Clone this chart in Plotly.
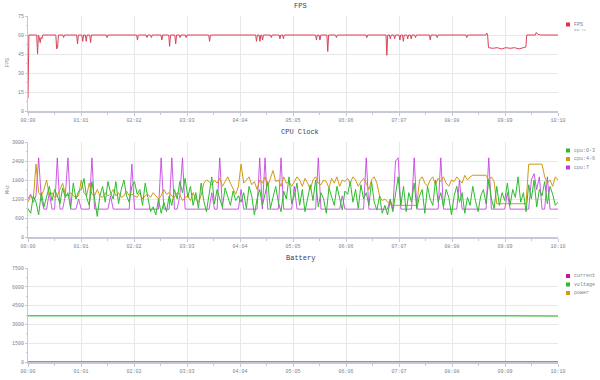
import numpy as np
import plotly.graph_objects as go

# ---------------- data ----------------
tick_vals = [0, 61, 122, 183, 244, 305, 366, 427, 488, 549, 610]
tick_text = ["00:00", "01:01", "02:02", "03:03", "04:04", "05:05",
             "06:06", "07:07", "08:08", "09:09", "10:10"]

fps_t = [0, 1, 10, 11, 12, 13, 14, 15, 16, 17, 32, 33, 34, 35, 40, 41, 42,
         56, 57, 58, 62, 63, 64, 66, 67, 68, 71, 72, 73, 90, 91, 92,
         125, 126, 127, 136, 137, 138, 141, 142, 143, 153, 154, 155,
         162, 163, 164, 169, 170, 171, 174, 175, 176, 181, 182, 183,
         208, 209, 210, 262, 263, 264, 266, 267, 268, 269, 270, 271,
         279, 280, 281, 289, 290, 291, 293, 294, 295, 331, 332, 333,
         335, 336, 337, 344, 345, 346, 354, 355, 356, 389, 390, 391,
         412, 413, 414, 416, 417, 418, 421, 422, 423, 427, 428, 429,
         431, 432, 433, 436, 437, 438, 440, 441, 442, 445, 446, 447,
         462, 463, 464, 470, 471, 472, 504, 505, 506, 527, 528, 529,
         530, 535, 540, 545, 550, 555, 560, 565, 570, 573, 574, 584,
         585, 587, 590, 610]
fps_v = [10, 60, 60, 45, 60, 58, 54, 58, 57, 60, 60, 49, 50, 60, 60, 58, 60,
         60, 53, 60, 60, 55, 60, 60, 55, 60, 60, 54, 60, 60, 58, 60,
         60, 56, 60, 60, 58, 60, 60, 58, 60, 60, 56, 60,
         60, 51, 60, 60, 53, 60, 60, 58, 60, 60, 58, 60,
         60, 55, 60, 60, 55, 60, 60, 55, 60, 60, 56, 60,
         60, 58, 60, 60, 57, 60, 60, 57, 60, 60, 56, 60,
         60, 56, 60, 60, 47, 60, 60, 58, 60, 60, 58, 60,
         60, 44, 60, 60, 57, 60, 60, 57, 60, 60, 56, 60,
         60, 55, 60, 60, 57, 60, 60, 57, 60, 60, 58, 60,
         60, 56, 60, 60, 58, 60, 60, 58, 60, 60, 61.5, 60,
         50, 49.5, 50, 49, 50, 49.5, 50, 49, 50, 50.5, 60, 60,
         62, 60.5, 60, 60]

cpu_0_3 = [900, 750, 1300, 1100, 700, 1400, 950, 1250, 1600, 1150, 1500, 1300, 1050, 1550, 1250, 1400, 900, 1700, 1200, 1450,
           1500, 1850, 1250, 1000, 1750, 1200, 650, 1300, 1600, 1100, 1750, 1400, 1200, 1750, 1050, 1500, 1800, 1300, 1100, 1600,
           1750, 1350, 1500, 1000, 1700, 1250, 800, 950, 700, 1200, 750, 1100, 800, 1300, 1000, 1500, 1200, 1750, 1400, 1850,
           1250, 1600, 1000, 1400, 900, 1700, 1150, 800, 1350, 1900, 1050, 1500, 1200, 950, 1550, 1300, 1000, 1450, 1150, 1300,
           1100, 1400, 900, 1600, 1300, 700, 1200, 1500, 1000, 1350, 1750, 900, 1250, 1600, 1100, 800, 1450, 1200, 1900, 1050,
           1300, 1700, 1000, 1500, 800, 1250, 1650, 1150, 1800, 950, 1400, 1200, 750, 1550, 1300, 1000, 1600, 1250, 850, 1450,
           1350, 1750, 1100, 1500, 900, 1650, 1200, 1400, 1000, 1750, 1100, 850, 1300, 750, 1000, 700, 1150, 800, 1300, 1900,
           1000, 1600, 800, 1400, 1100, 1700, 900, 1300, 1500, 750, 1600, 1200, 1000, 1800, 1100, 1400, 950, 1500, 1250, 700,
           1300, 1600, 1100, 1400, 750, 1250, 1000, 1600, 1150, 800, 1300, 1500, 1050, 1800, 1200, 900, 1600, 1000, 1400, 1150,
           1700, 1000, 1500, 1250, 1900, 1100, 1400, 800, 1650, 1200, 1800, 950, 1500, 1300, 1750, 1050, 1600, 1350, 1000, 1100]

cpu_4_6 = [1100, 1300, 1200, 2300, 1400, 1300, 1500, 1800, 1300, 1400, 1250, 1300, 1500, 1700, 1350, 1300, 1400, 1300, 1250, 1300,
           1800, 1400, 1300, 1700, 1350, 1300, 1500, 1300, 1250, 1400, 1300, 1350, 1500, 1300, 1400, 1250, 1300, 1450, 1300, 1350,
           1300, 1250, 1400, 1200, 1300, 1350, 1250, 1400, 1300, 1200, 1300, 1500, 1350, 1400, 1300, 1250, 1400, 1350, 1150, 1250,
           1300, 1150, 1400, 1200, 1100, 1300, 1700, 1800, 1750, 1650, 1800, 1700, 1850, 1600, 1750, 1900, 1700, 1500, 1350, 1600,
           2300, 1700, 1800, 1900, 1650, 1750, 1500, 1800, 1700, 1900, 1600, 1850, 2100, 1750, 1800, 1600, 1900, 1700, 1750, 1600,
           1750, 1900, 1800, 1600, 1850, 1700, 1500, 1800, 1900, 1700, 1650, 1800, 1750, 1550, 1850, 1700, 1900, 1600, 1800, 1750,
           1850, 1700, 1900, 1800, 1600, 1750, 1850, 1700, 1500, 1800, 1900, 1700, 1300, 1150, 1200, 1100, 1050, 1000, 1000, 1000,
           1000, 1000, 1000, 1000, 1000, 1000, 1000, 1800, 1900, 1700, 1600, 1800, 1900, 1650, 1850, 1750, 1900, 1700, 1600, 1800,
           1750, 1900, 1800, 1700, 1950, 1800, 1900, 1950, 1950, 1950, 1950, 1950, 1950, 1800, 1900, 1750, 1050, 1050, 1050, 1050,
           1050, 1050, 1050, 1050, 1050, 1050, 1050, 1050, 2300, 2300, 2300, 2300, 2300, 2300, 1900, 1700, 1800, 1600, 1900, 1800]

cpu_7 = [1200, 1350, 1100, 1300, 2500, 1200, 880, 880, 1400, 880, 880, 2500, 880, 880, 1300, 2500, 880, 880, 880, 1200,
         880, 880, 880, 880, 2500, 880, 880, 880, 880, 880, 880, 1300, 880, 880, 880, 880, 880, 880, 880, 2300,
         880, 880, 880, 880, 880, 880, 880, 880, 880, 880, 2500, 880, 880, 880, 2500, 880, 880, 1300, 2500, 880,
         880, 880, 880, 880, 880, 880, 880, 880, 880, 1400, 880, 880, 2500, 880, 880, 880, 880, 880, 880, 880,
         1500, 880, 880, 880, 880, 880, 880, 2500, 880, 2500, 880, 880, 880, 880, 880, 2500, 880, 880, 880, 880,
         1600, 880, 880, 880, 880, 880, 880, 880, 880, 2500, 880, 880, 880, 880, 880, 880, 880, 880, 1300, 880,
         880, 880, 880, 880, 880, 880, 880, 2500, 880, 880, 880, 880, 880, 880, 880, 880, 1200, 880, 2400, 2500,
         880, 880, 880, 880, 880, 2500, 880, 880, 880, 880, 880, 880, 880, 880, 880, 2500, 880, 880, 880, 880,
         880, 880, 1800, 880, 880, 880, 880, 880, 880, 880, 880, 880, 880, 2500, 880, 880, 880, 880, 880, 880,
         1400, 880, 880, 880, 880, 880, 880, 880, 880, 1800, 2000, 1500, 1900, 880, 880, 1900, 880, 880, 880, 880]

bat_t = [0, 144, 145, 610]
bat_current = [0, 0, 0, 0]
bat_voltage = [3700, 3700, 3680, 3680]
bat_power = [0, 0, 0, 0]

fps_avg_label = "59.71"

# ---------------- layout helpers ----------------
W, H = 600, 380
X0, X1 = 28, 558
panels = [(16, 111), (142, 237), (268, 362)]

def py(y):
    return 1 - y / H

def pxx(x):
    return x / W

C_FPS = "#d8435a"
C_G = "#2dbb2d"
C_O = "#d09a12"
C_P = "#c23ddf"
C_CUR = "#c0169a"

fig = go.Figure()

fig.add_trace(go.Scatter(x=fps_t, y=fps_v, mode="lines", line=dict(color=C_FPS, width=1),
                         xaxis="x", yaxis="y", showlegend=False))

def cpu_x(vals):
    return np.linspace(0, 610, len(vals))

fig.add_trace(go.Scatter(x=cpu_x(cpu_7), y=cpu_7, mode="lines", line=dict(color=C_P, width=1),
                         opacity=0.85, xaxis="x2", yaxis="y2", showlegend=False))
fig.add_trace(go.Scatter(x=cpu_x(cpu_4_6), y=cpu_4_6, mode="lines", line=dict(color=C_O, width=1),
                         xaxis="x2", yaxis="y2", showlegend=False))
fig.add_trace(go.Scatter(x=cpu_x(cpu_0_3), y=cpu_0_3, mode="lines", line=dict(color=C_G, width=1),
                         xaxis="x2", yaxis="y2", showlegend=False))

fig.add_trace(go.Scatter(x=bat_t, y=bat_power, mode="lines", line=dict(color=C_O, width=1),
                         xaxis="x3", yaxis="y3", showlegend=False))
fig.add_trace(go.Scatter(x=bat_t, y=bat_current, mode="lines", line=dict(color=C_CUR, width=1),
                         xaxis="x3", yaxis="y3", showlegend=False))
fig.add_trace(go.Scatter(x=bat_t, y=bat_voltage, mode="lines", line=dict(color="#5cc85c", width=1.5),
                         xaxis="x3", yaxis="y3", showlegend=False))

tickfont = dict(family="Liberation Mono", size=5, color="#7a8196")
grid = "#e8e8ec"
axline = "#c5c9d6"

def xaxis_cfg(anchor):
    return dict(domain=[pxx(X0), pxx(X1)], range=[0, 610], anchor=anchor, automargin=False,
                tickmode="array", tickvals=tick_vals, ticktext=tick_text,
                tickfont=tickfont, showgrid=True, gridcolor=grid, gridwidth=1,
                showline=True, linecolor=axline, linewidth=1.5,
                ticks="outside", ticklen=3, tickcolor=axline,
                minor=dict(tickvals=[30.5 + 61 * i for i in range(10)], ticks="outside",
                           ticklen=2, tickcolor=axline, showgrid=False),
                zeroline=False, fixedrange=True)

def yaxis_cfg(anchor, top, bot, rng, dtick):
    return dict(domain=[py(bot), py(top)], range=rng, anchor=anchor, automargin=False,
                tickmode="linear", tick0=0, dtick=dtick, tickfont=tickfont,
                showgrid=True, gridcolor=grid, gridwidth=1,
                showline=True, linecolor=axline, linewidth=1,
                ticks="outside", ticklen=2, tickcolor=axline,
                minor=dict(dtick=dtick / 2, ticks="outside", ticklen=1, tickcolor=axline, showgrid=False),
                zeroline=False, fixedrange=True)

fig.update_layout(
    width=W, height=H, margin=dict(l=0, r=0, t=0, b=0, autoexpand=False),
    paper_bgcolor="white", plot_bgcolor="white", showlegend=False, hovermode=False,
    xaxis=xaxis_cfg("y"), yaxis=yaxis_cfg("x", *panels[0], [0, 75], 15),
    xaxis2=xaxis_cfg("y2"), yaxis2=yaxis_cfg("x2", *panels[1], [0, 3000], 600),
    xaxis3=xaxis_cfg("y3"), yaxis3=yaxis_cfg("x3", *panels[2], [0, 7500], 1500),
)

titlefont = dict(family="Liberation Mono", size=7, color="#34406a")
anns = []
for text, y in [("FPS", 6), ("CPU Clock", 132), ("Battery", 258)]:
    anns.append(dict(x=pxx(300), y=py(y), xref="paper", yref="paper", text=text, showarrow=False,
                     font=titlefont, xanchor="center", yanchor="middle"))
for text, y in [("FPS", 63), ("MHz", 190)]:
    anns.append(dict(x=pxx(8), y=py(y), xref="paper", yref="paper", text=text, showarrow=False,
                     textangle=-90, font=dict(family="Liberation Mono", size=5, color="#7a8196"),
                     xanchor="center", yanchor="middle"))

legfont = dict(family="Liberation Mono", size=5, color="#7a8196")
shapes = []
def legend_item(y, color, text):
    shapes.append(dict(type="rect", xref="paper", yref="paper",
                       x0=pxx(566), x1=pxx(570), y0=py(y + 2), y1=py(y - 2),
                       fillcolor=color, line=dict(width=0)))
    anns.append(dict(x=pxx(572), y=py(y), xref="paper", yref="paper", text=text, showarrow=False,
                     font=legfont, xanchor="left", yanchor="middle"))

legend_item(24.5, "#e8313f", "FPS")
anns.append(dict(x=pxx(572), y=py(30.5), xref="paper", yref="paper", text=fps_avg_label, showarrow=False,
                 font=dict(family="Liberation Mono", size=4, color="#a0a6b4"), xanchor="left", yanchor="middle"))
legend_item(150.5, C_G, "cpu:0-3")
legend_item(159, C_O, "cpu:4-6")
legend_item(167.5, C_P, "cpu:7")
legend_item(276, C_CUR, "current")
legend_item(284.5, C_G, "voltage")
legend_item(293, C_O, "power")

fig.update_layout(annotations=anns, shapes=shapes)
fig.write_html("out.html", config={"displayModeBar": False, "staticPlot": True},
               post_script="document.body.style.margin='0';document.body.style.overflow='hidden';")
